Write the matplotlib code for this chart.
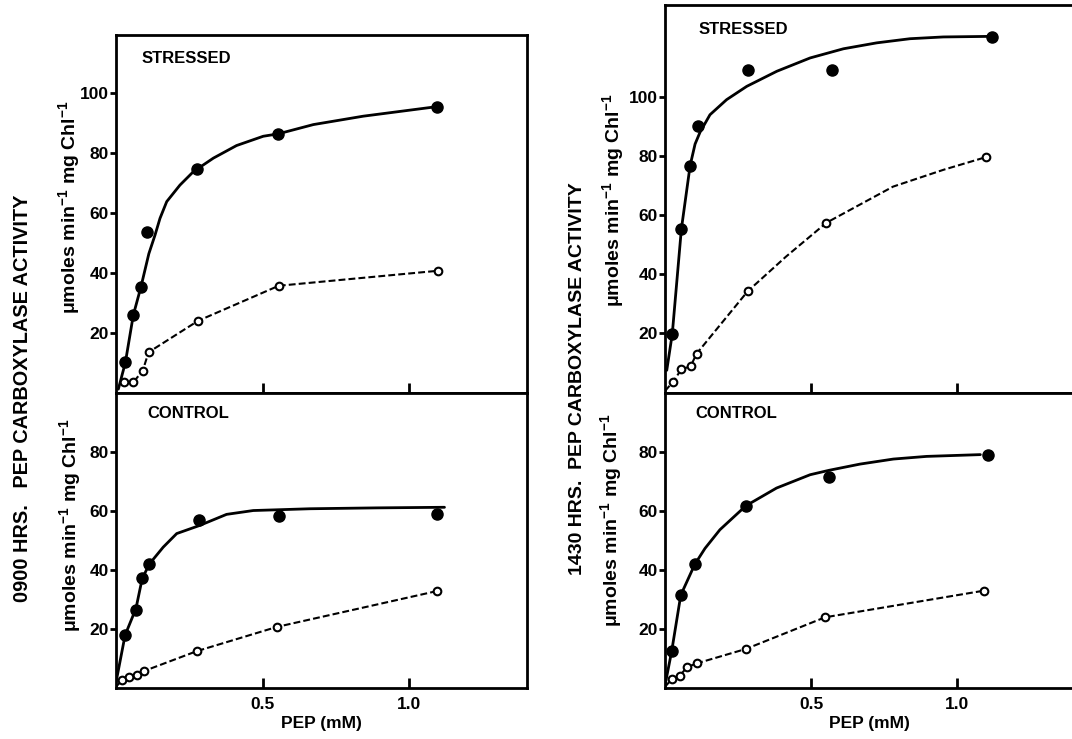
import matplotlib
matplotlib.use("Agg")
import matplotlib.pyplot as plt

plt.rcParams["font.family"] = ["Liberation Sans", "DejaVu Sans"]
plt.rcParams["font.weight"] = "bold"
plt.rcParams["mathtext.fontset"] = "custom"
plt.rcParams["mathtext.rm"] = "Liberation Sans:bold"
plt.rcParams["mathtext.it"] = "Liberation Sans:bold"
plt.rcParams["mathtext.bf"] = "Liberation Sans:bold"

# ---- 0900 h, stressed
s09_pep_dark = [0.032, 0.059, 0.085, 0.107, 0.277, 0.553, 1.095]
s09_act_dark = [10.2, 26.0, 35.4, 53.8, 74.8, 86.3, 95.4]
s09_pep_open = [0.028, 0.059, 0.091, 0.111, 0.28, 0.555, 1.098]
s09_act_open = [3.8, 3.6, 7.4, 13.6, 24.1, 35.8, 40.8]
s09_fit_pep = [0.008, 0.032, 0.059, 0.085, 0.112, 0.133, 0.150, 0.173, 0.218, 0.264,
               0.332, 0.411, 0.502, 0.553, 0.673, 0.843, 1.095]
s09_fit_act = [1.3, 10.2, 26.0, 35.4, 46.5, 52.7, 58.3, 63.9, 69.4, 73.9,
               78.4, 82.6, 85.7, 86.5, 89.6, 92.4, 95.6]
s09_dash_pep = s09_pep_open
s09_dash_act = s09_act_open

# ---- 0900 h, control
c09_pep_dark = [0.031, 0.068, 0.089, 0.113, 0.284, 0.557, 1.093]
c09_act_dark = [18.0, 26.4, 37.2, 42.0, 57.1, 58.5, 59.1]
c09_pep_open = [0.02, 0.045, 0.072, 0.097, 0.276, 0.549, 1.093]
c09_act_open = [2.7, 3.8, 4.6, 5.9, 12.6, 20.8, 32.9]
c09_fit_pep = [0.0, 0.031, 0.068, 0.089, 0.113, 0.161, 0.207, 0.284, 0.377, 0.468,
               0.661, 0.889, 1.12]
c09_fit_act = [2.0, 18.0, 27.0, 37.0, 42.0, 47.8, 52.4, 55.1, 58.9, 60.2,
               60.8, 61.1, 61.3]
c09_dash_pep = [0.0] + c09_pep_open
c09_dash_act = [0.5] + c09_act_open

# ---- 1430 h, stressed
s14_pep_dark = [0.025, 0.056, 0.086, 0.112, 0.284, 0.571, 1.12]
s14_act_dark = [19.9, 55.2, 76.7, 90.0, 109.0, 109.0, 120.2]
s14_pep_open = [0.028, 0.056, 0.088, 0.108, 0.283, 0.553, 1.1]
s14_act_open = [3.7, 7.8, 8.9, 13.1, 34.2, 57.4, 79.6]
s14_fit_pep = [0.006, 0.025, 0.056, 0.086, 0.103, 0.120, 0.154, 0.211, 0.280, 0.383,
               0.497, 0.611, 0.725, 0.839, 0.953, 1.12]
s14_fit_act = [7.5, 19.9, 55.2, 76.7, 84.0, 88.0, 93.9, 99.0, 103.5, 108.6,
               113.1, 116.2, 118.2, 119.6, 120.2, 120.4]
s14_dash_pep = [0.0, 0.028, 0.056, 0.088, 0.108, 0.283, 0.414, 0.553, 0.781, 0.954, 1.1]
s14_dash_act = [0.5, 3.7, 7.8, 8.9, 13.1, 34.2, 45.9, 57.4, 69.6, 75.3, 79.6]

# ---- 1430 h, control
c14_pep_dark = [0.023, 0.054, 0.102, 0.277, 0.562, 1.107]
c14_act_dark = [12.6, 31.5, 41.9, 61.7, 71.6, 78.8]
c14_pep_open = [0.023, 0.05, 0.076, 0.108, 0.277, 0.548, 1.092]
c14_act_open = [3.1, 4.2, 7.2, 8.4, 13.3, 24.0, 33.0]
c14_fit_pep = [0.0, 0.023, 0.054, 0.102, 0.137, 0.188, 0.277, 0.382, 0.497, 0.562,
               0.668, 0.782, 0.896, 1.08]
c14_fit_act = [1.0, 12.6, 31.5, 41.9, 47.3, 53.6, 61.7, 67.7, 72.2, 73.7,
               75.8, 77.5, 78.4, 79.0]
c14_dash_pep = [0.0] + c14_pep_open
c14_dash_act = [0.5] + c14_act_open

x_ticks = [0.5, 1.0]
x_ticklabels = ["0.5", "1.0"]
y_ticks_top = [20, 40, 60, 80, 100]
y_ticks_bot = [20, 40, 60, 80]

unit_label = r"$\mu$moles min$^{-1}$ mg Chl$^{-1}$"

W, H = 1072.0, 739.0
fig = plt.figure(figsize=(W / 100, H / 100), dpi=100)


def px_rect(x0, x1, y0, y1):
    # pixel box (top-left origin) -> figure fraction
    return [x0 / W, 1 - y1 / H, (x1 - x0) / W, (y1 - y0) / H]


def panel(rect, ymax, yt, tag, tag_x, dark, opn, fit, dash, bottom):
    ax = fig.add_axes(rect)
    ax.plot(fit[0], fit[1], color="black", lw=2.0, zorder=2, solid_capstyle="round")
    ax.plot(dash[0], dash[1], color="black", lw=1.5, ls=(0, (3.3, 1.5)), zorder=2)
    ax.plot(dark[0], dark[1], ls="none", marker="o", ms=8, color="black", zorder=3)
    ax.plot(opn[0], opn[1], ls="none", marker="o", ms=5.5, mfc="white",
            mec="black", mew=1.5, zorder=3)
    ax.set_xlim(0, 1.4)
    ax.set_ylim(0, ymax)
    ax.set_xticks(x_ticks)
    ax.set_yticks(yt)
    ax.set_yticklabels([str(v) for v in yt])
    ax.tick_params(axis="x", direction="in", length=7, width=2, pad=6, labelsize=12.5)
    ax.tick_params(axis="y", direction="out", length=4, width=2, pad=1, labelsize=12.5)
    if bottom:
        ax.set_xticklabels(x_ticklabels)
        ax.set_xlabel("PEP (mM)", fontsize=12.5, fontweight="bold", labelpad=3)
    else:
        ax.set_xticklabels([])
    for s in ax.spines.values():
        s.set_linewidth(2.0)
    ax.text(tag_x, 0.955, tag, transform=ax.transAxes, ha="left", va="top",
            fontsize=12, fontweight="bold")
    return ax


panel(px_rect(116, 526.6, 35, 393), 119.5, y_ticks_top, "STRESSED", 0.062,
      (s09_pep_dark, s09_act_dark), (s09_pep_open, s09_act_open),
      (s09_fit_pep, s09_fit_act), (s09_dash_pep, s09_dash_act), False)
panel(px_rect(116, 526.6, 393, 688.3), 100, y_ticks_bot, "CONTROL", 0.076,
      (c09_pep_dark, c09_act_dark), (c09_pep_open, c09_act_open),
      (c09_fit_pep, c09_fit_act), (c09_dash_pep, c09_dash_act), True)
panel(px_rect(665, 1073.8, 5, 392.5), 131, y_ticks_top, "STRESSED", 0.081,
      (s14_pep_dark, s14_act_dark), (s14_pep_open, s14_act_open),
      (s14_fit_pep, s14_fit_act), (s14_dash_pep, s14_dash_act), False)
panel(px_rect(665, 1073.8, 392.5, 688.3), 100, y_ticks_bot, "CONTROL", 0.074,
      (c14_pep_dark, c14_act_dark), (c14_pep_open, c14_act_open),
      (c14_fit_pep, c14_fit_act), (c14_dash_pep, c14_dash_act), True)

# axis titles for each column
for x, y in [(69, 207), (70, 525), (613, 200), (611, 520)]:
    fig.text(x / W, 1 - y / H, unit_label, rotation=90, ha="center", va="center",
             fontsize=14, fontweight="bold")
fig.text(23 / W, 1 - 398 / H, "0900 HRS.   PEP CARBOXYLASE ACTIVITY", rotation=90,
         ha="center", va="center", fontsize=14.3, fontweight="bold")
fig.text(577 / W, 1 - 379 / H, "1430 HRS.  PEP CARBOXYLASE ACTIVITY", rotation=90,
         ha="center", va="center", fontsize=14, fontweight="bold")

fig.savefig("out.png", dpi=100)
